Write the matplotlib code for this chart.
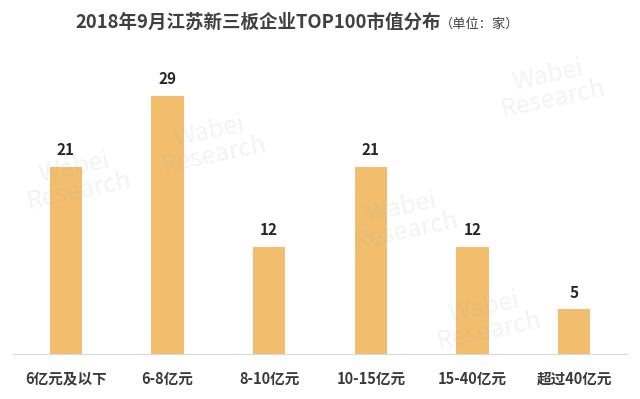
import matplotlib.pyplot as plt
import numpy as np

plt.rcParams['font.family'] = ['Noto Sans CJK SC', 'DejaVu Sans']

categories = ['6亿元及以下', '6-8亿元', '8-10亿元', '10-15亿元', '15-40亿元', '超过40亿元']
counts = [21, 29, 12, 21, 12, 5]

fig = plt.figure(figsize=(6.4, 3.99), dpi=100)
ax = fig.add_axes([13 / 640, 45 / 399, 614 / 640, 285 / 399])

x = np.arange(len(categories))
ax.bar(x, counts, width=0.32, color='#F2BD6D')
for xi, v in zip(x, counts):
    ax.text(xi, v + 1.0, str(v), ha='center', va='bottom', fontsize=11,
            fontweight='bold', color='#262626')

ax.set_xlim(-0.52, 5.52)
ax.set_ylim(0, 32)
ax.set_yticks([])
ax.set_xticks(x)
ax.set_xticklabels(categories, fontsize=10.5, color='#3a3a3a', fontweight='semibold')
ax.tick_params(axis='x', length=0, pad=12)
for s in ['top', 'right', 'left']:
    ax.spines[s].set_visible(False)
ax.spines['bottom'].set_color('#D9D9D9')

# faint watermarks
for wx, wy in [(0.33, 0.64), (0.63, 0.45), (0.86, 0.78), (0.12, 0.55), (0.76, 0.2)]:
    fig.text(wx, wy, 'Wabei\nResearch', fontsize=18, color='#B0B0B0', alpha=0.15,
             rotation=12, ha='center', va='center', linespacing=0.9)

fig.text(75 / 640, 0.945, '2018年9月江苏新三板企业TOP100市值分布', fontsize=13.3,
         fontweight='bold', color='#404040', ha='left', va='center')
fig.text(440 / 640, 0.94, '（单位：家）', fontsize=9.5, color='#404040',
         ha='left', va='center')

fig.savefig('out.png', dpi=100)
